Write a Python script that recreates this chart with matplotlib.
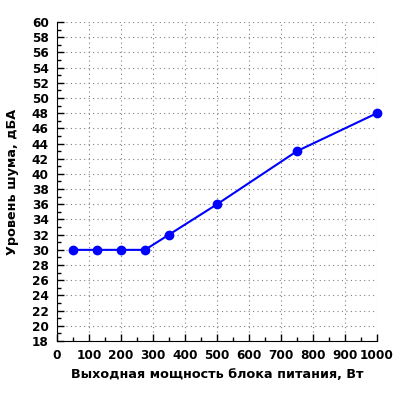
import matplotlib
matplotlib.use('Agg')
import matplotlib.pyplot as plt
from matplotlib.ticker import MultipleLocator

# ── data ─────────────────────────────────────────────
power_w = [50, 125, 200, 275, 350, 500, 750, 1000]
noise_dba = [30, 30, 30, 30, 32, 36, 43, 48]

x_label = 'Выходная мощность блока питания, Вт'
y_label = 'Уровень шума, дБА'

# ── figure ───────────────────────────────────────────
plt.rcParams['font.family'] = ['DejaVu Sans']
plt.rcParams['font.weight'] = 'bold'

fig = plt.figure(figsize=(4, 4), dpi=100)
ax = fig.add_axes([0.1425, 0.1475, 0.80, 0.7975])

ax.plot(power_w, noise_dba, color='#0000ff', lw=1.5, marker='o', ms=6,
        clip_on=False, zorder=3)

ax.set_xlim(0, 1000)
ax.set_ylim(18, 60)
ax.xaxis.set_major_locator(MultipleLocator(100))
ax.xaxis.set_minor_locator(MultipleLocator(50))
ax.yaxis.set_major_locator(MultipleLocator(2))
ax.yaxis.set_minor_locator(MultipleLocator(1))

ax.grid(True, which='major', color='#808080', linestyle=(0, (1, 3)), lw=0.8)
ax.spines['top'].set_visible(False)
ax.spines['right'].set_visible(False)
ax.tick_params(which='major', direction='in', length=5, width=1,
               labelsize=8.7, pad=6)
ax.tick_params(which='minor', direction='in', length=3, width=1)
for lbl in ax.get_xticklabels() + ax.get_yticklabels():
    lbl.set_fontweight('bold')

ax.set_xlabel(x_label, fontsize=9.2, fontweight='bold', labelpad=4)
ax.set_ylabel(y_label, fontsize=9.2, fontweight='bold', labelpad=9)

fig.savefig('out.png', dpi=100)
